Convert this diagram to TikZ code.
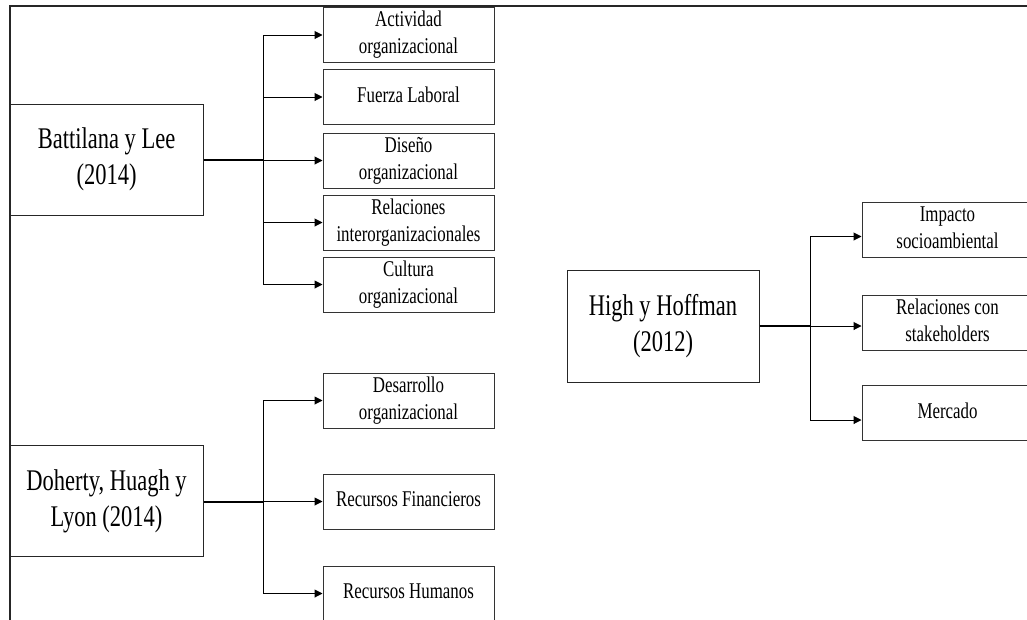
\documentclass[tikz,border=0pt]{standalone}
\usepackage{fontspec}
\usepackage{graphicx}
\setmainfont{Liberation Serif}
\usetikzlibrary{arrows.meta,calc}
\newcommand\nartext[1]{\raisebox{-2.5pt}{\scalebox{0.75}[1]{\begin{tabular}{@{}c@{}}#1\end{tabular}}}}
\tikzset{
  bigbox/.style={draw=black!85, line width=1pt, minimum width=193pt, minimum height=111pt, inner sep=0pt,
    font=\fontsize{30}{36}\selectfont},
  smallbox/.style={draw=black!80, line width=1pt, minimum width=171pt, minimum height=55pt, inner sep=0pt,
    font=\fontsize{22.5}{27}\selectfont},
  trunk/.style={line width=2pt, black},
  branch/.style={line width=1pt, black},
  arr/.style={line width=1pt, black, -{Triangle[length=8pt,width=8pt]}},
  frame/.style={line width=2.5pt, black!85}
}
\begin{document}
\begin{tikzpicture}[x=1pt,y=-1pt]
\useasboundingbox (0,0) rectangle (1027,619);
\clip (0,0) rectangle (1027,619);
\coordinate (tl) at (10,6);
\coordinate (tr) at (1030,6);
\coordinate (bl) at (10,625);
\draw[frame] (tr) -- (tl) -- (bl);

% Battilana y Lee
\node[bigbox] (bl1) at (106.5,159.5) {\nartext{Battilana y Lee\\(2014)}};
\node[smallbox] (a1) at (408.5,35) {\nartext{Actividad\\organizacional}};
\node[smallbox] (a2) at (408.5,97) {\nartext{Fuerza Laboral}};
\node[smallbox] (a3) at (408.5,160.5) {\nartext{Diseño\\organizacional}};
\node[smallbox] (a4) at (408.5,222.5) {\nartext{Relaciones\\interorganizacionales}};
\node[smallbox] (a5) at (408.5,284.5) {\nartext{Cultura\\organizacional}};
\coordinate (ja) at (263,160);
\draw[trunk] (bl1.east |- ja) -- (ja);
\draw[branch] (ja |- a1.west) -- (ja |- a5.west);
\foreach \n in {a1,a2,a3,a4,a5}{
  \draw[arr] (ja |- \n.west) -- (\n.west);
}

% Doherty, Huagh y Lyon
\node[bigbox] (dh) at (106.5,501) {\nartext{Doherty, Huagh y\\Lyon (2014)}};
\node[smallbox] (b1) at (408.5,400.5) {\nartext{Desarrollo\\organizacional}};
\node[smallbox] (b2) at (408.5,501.5) {\nartext{Recursos Financieros}};
\node[smallbox] (b3) at (408.5,593.5) {\nartext{Recursos Humanos}};
\coordinate (jb) at (263,501.5);
\draw[trunk] (dh.east |- jb) -- (jb);
\draw[branch] (jb |- b1.west) -- (jb |- b3.west);
\foreach \n in {b1,b2,b3}{
  \draw[arr] (jb |- \n.west) -- (\n.west);
}

% High y Hoffman
\node[bigbox, minimum width=192pt, minimum height=112pt] (hh) at (663,326) {\nartext{High y Hoffman\\(2012)}};
\node[smallbox] (c1) at (947.5,229.5) {\nartext{Impacto\\socioambiental}};
\node[smallbox] (c2) at (947.5,322.5) {\nartext{Relaciones con\\stakeholders}};
\node[smallbox] (c3) at (947.5,413) {\nartext{Mercado}};
\coordinate (jc) at (810,326);
\coordinate (e1) at ([yshift=-7pt]c1.west);
\coordinate (e2) at ([yshift=-3.5pt]c2.west);
\coordinate (e3) at ([yshift=-7pt]c3.west);
\draw[trunk] (hh.east |- jc) -- (jc);
\draw[branch] (jc |- e1) -- (jc |- e3);
\foreach \n in {e1,e2,e3}{
  \draw[arr] (jc |- \n) -- (\n);
}
\end{tikzpicture}
\end{document}
